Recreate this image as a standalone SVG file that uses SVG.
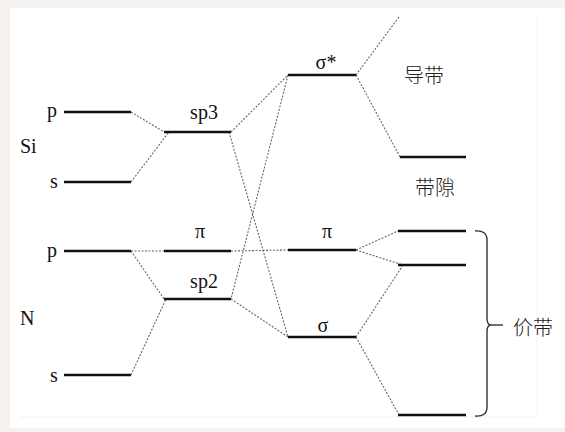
<svg xmlns="http://www.w3.org/2000/svg" width="565" height="432" viewBox="0 0 565 432">
  <style>
    .lvl { stroke: #111; stroke-width: 2.6; fill: none; }
    .dash { stroke: #666; stroke-width: 1.1; stroke-dasharray: 2 1.5; fill: none; }
    .lbl { font-family: 'Liberation Serif', 'DejaVu Serif', serif; font-size: 20px; fill: #111; }
    .cjk { font-family: 'Noto Sans CJK SC', sans-serif; font-weight: 300; font-size: 20px; fill: #222; }
  </style>

  <!-- page background and white panel -->
  <rect x="0" y="0" width="565" height="432" fill="#f6f2ef"/>
  <rect x="10" y="8" width="555" height="420" fill="#ffffff"/>
  <path d="M537,17 V417 M20,417 H537" stroke="#f3f3f3" stroke-width="1" fill="none"/>

  <!-- connectors between energy levels -->
  <g id="connectors">
    <line class="dash" x1="131" y1="112" x2="164" y2="132"/>
    <line class="dash" x1="131" y1="182" x2="169" y2="132"/>
    <line class="dash" x1="231" y1="132" x2="288" y2="75"/>
    <line class="dash" x1="229" y1="132" x2="288" y2="337"/>
    <line class="dash" x1="288" y1="75" x2="231" y2="299"/>
    <line class="dash" x1="356" y1="75" x2="399" y2="17"/>
    <line class="dash" x1="356" y1="75" x2="400" y2="157"/>
    <line class="dash" x1="131" y1="251" x2="164" y2="251"/>
    <line class="dash" x1="231" y1="251" x2="288" y2="250"/>
    <line class="dash" x1="131" y1="251" x2="164" y2="299"/>
    <line class="dash" x1="131" y1="375" x2="166" y2="299"/>
    <line class="dash" x1="231" y1="299" x2="288" y2="337"/>
    <line class="dash" x1="356" y1="250" x2="398" y2="231"/>
    <line class="dash" x1="356" y1="250" x2="403" y2="265"/>
    <line class="dash" x1="356" y1="337" x2="403" y2="265"/>
    <line class="dash" x1="356" y1="337" x2="399" y2="415"/>
  </g>

  <!-- atom labels -->
  <text class="lbl" x="20" y="153">Si</text>
  <text class="lbl" x="20" y="325">N</text>

  <!-- Si levels -->
  <g id="si-p">
    <line class="lvl" x1="64" y1="112" x2="131" y2="112"/>
    <text class="lbl" x="47" y="117">p</text>
  </g>
  <g id="si-s">
    <line class="lvl" x1="64" y1="182" x2="131" y2="182"/>
    <text class="lbl" x="50" y="188">s</text>
  </g>

  <!-- N levels -->
  <g id="n-p">
    <line class="lvl" x1="64" y1="251" x2="131" y2="251"/>
    <text class="lbl" x="47" y="257">p</text>
  </g>
  <g id="n-s">
    <line class="lvl" x1="64" y1="375" x2="131" y2="375"/>
    <text class="lbl" x="50" y="382">s</text>
  </g>

  <!-- hybrid orbitals -->
  <g id="sp3">
    <line class="lvl" x1="164" y1="132" x2="231" y2="132"/>
    <text class="lbl" x="204" y="119" text-anchor="middle">sp3</text>
  </g>
  <g id="pi-left">
    <line class="lvl" x1="164" y1="251" x2="231" y2="251"/>
    <text class="lbl" x="200" y="238" text-anchor="middle">π</text>
  </g>
  <g id="sp2">
    <line class="lvl" x1="164" y1="299" x2="231" y2="299"/>
    <text class="lbl" x="204" y="288" text-anchor="middle">sp2</text>
  </g>

  <!-- molecular orbitals -->
  <g id="sigma-star">
    <line class="lvl" x1="288" y1="75" x2="356" y2="75"/>
    <text class="lbl" x="326" y="69" text-anchor="middle">σ*</text>
  </g>
  <g id="pi-right">
    <line class="lvl" x1="288" y1="250" x2="356" y2="250"/>
    <text class="lbl" x="327" y="238" text-anchor="middle">π</text>
  </g>
  <g id="sigma">
    <line class="lvl" x1="288" y1="337" x2="356" y2="337"/>
    <text class="lbl" x="323" y="332" text-anchor="middle">σ</text>
  </g>

  <!-- bands -->
  <g id="conduction-band">
    <line class="lvl" x1="400" y1="157" x2="466" y2="157"/>
    <text class="cjk" x="424" y="83" text-anchor="middle">导带</text>
  </g>
  <text class="cjk" x="435" y="195" text-anchor="middle">带隙</text>
  <g id="valence-band">
    <line class="lvl" x1="398" y1="231" x2="466" y2="231"/>
    <line class="lvl" x1="398" y1="265" x2="466" y2="265"/>
    <line class="lvl" x1="398" y1="415" x2="466" y2="415"/>
    <path d="M475,231 Q487,230 487,240 V318 Q487,325 491,325 Q487,325 487,332 V407 Q487,417 475,416" stroke="#333" stroke-width="1.4" fill="none"/>
    <line x1="491" y1="325" x2="503" y2="325" stroke="#333" stroke-width="1.4"/>
    <text class="cjk" x="533" y="335" text-anchor="middle">价带</text>
  </g>
</svg>
